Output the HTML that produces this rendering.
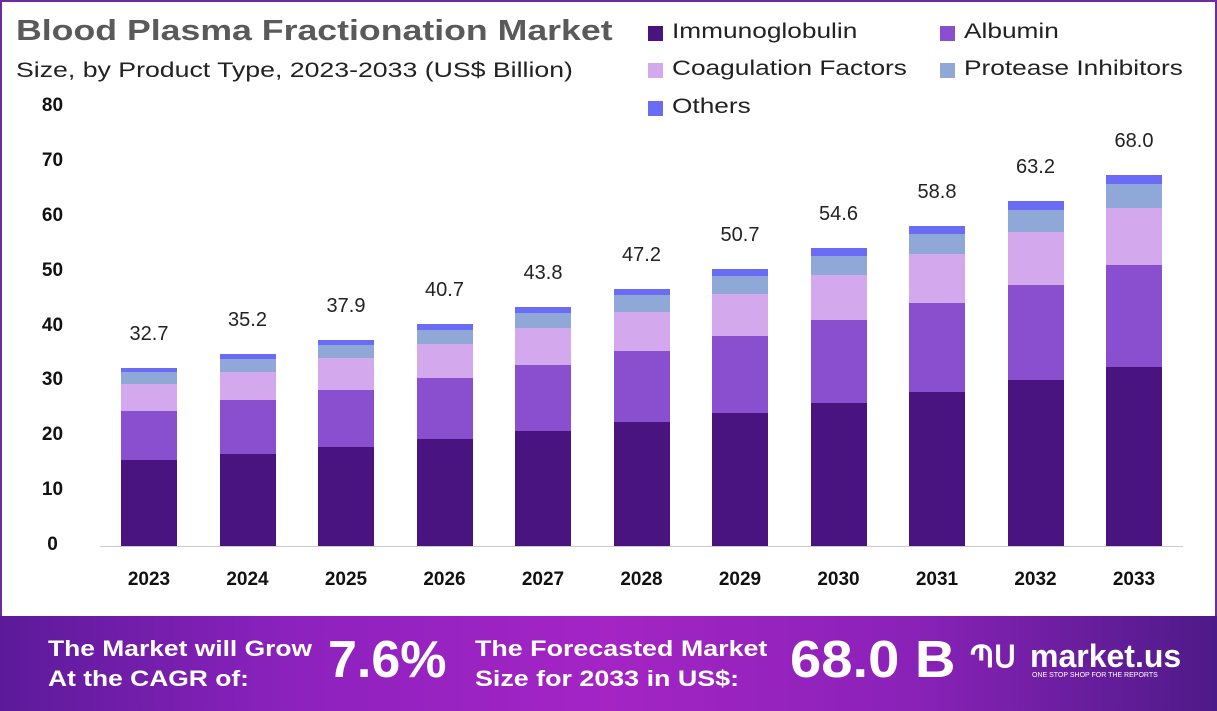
<!DOCTYPE html>
<html><head><meta charset="utf-8"><style>
body{margin:0;width:1217px;height:711px;overflow:hidden;background:#fff;font-family:"Liberation Sans",sans-serif;position:relative}
.frame{position:absolute;left:0;top:0;width:1213px;height:640px;border:2px solid #6d2c9e;border-bottom:none}
.t{position:absolute;white-space:nowrap}
.sx{transform-origin:0 0;transform:scaleX(1.25)}
.bar{position:absolute;width:56px}
.lg{position:absolute;width:15px;height:15px}
.banner{position:absolute;left:0;top:616px;width:1217px;height:95px;background:linear-gradient(90deg,#5c1a9a 0%,#8e22bf 25%,#a424c4 50%,#8a22b8 75%,#4e1a88 100%)}
.w{color:#fff;font-weight:bold;position:absolute;white-space:nowrap}
</style></head><body>
<div class="frame"></div>
<div class="t" style="left:16px;top:15px;font-size:29px;font-weight:bold;color:#5a5a5a;transform-origin:0 0;transform:scaleX(1.23)">Blood Plasma Fractionation Market</div>
<div class="t" style="left:16px;top:59px;font-size:21px;color:#222;transform-origin:0 0;transform:scaleX(1.27)">Size, by Product Type, 2023-2033 (US$ Billion)</div>
<div class="lg" style="left:648px;top:26px;background:#4a1480"></div><div class="t sx" style="left:672px;top:20px;font-size:21px;color:#222">Immunoglobulin</div>
<div class="lg" style="left:940px;top:26px;background:#8a4fcf"></div><div class="t sx" style="left:964px;top:20px;font-size:21px;color:#222">Albumin</div>
<div class="lg" style="left:648px;top:63px;background:#d4a8ec"></div><div class="t sx" style="left:672px;top:57px;font-size:21px;color:#222">Coagulation Factors</div>
<div class="lg" style="left:940px;top:63px;background:#8fa8d8"></div><div class="t sx" style="left:964px;top:57px;font-size:21px;color:#222">Protease Inhibitors</div>
<div class="lg" style="left:648px;top:101px;background:#6b6cf5"></div><div class="t sx" style="left:672px;top:95px;font-size:21px;color:#222">Others</div>
<div id="ax"></div>
<div style="position:absolute;left:100px;top:546px;width:1083px;height:1px;background:#ccc"></div>
<div id="bars"></div>
<div class="banner"></div>
<div class="w" style="left:48px;top:634px;font-size:22px;line-height:30px;transform-origin:0 0;transform:scaleX(1.2)">The Market will Grow<br>At the CAGR of:</div>
<div class="w" style="left:328px;top:630px;font-size:52px">7.6%</div>
<div class="w" style="left:475px;top:634px;font-size:22px;line-height:30px;transform-origin:0 0;transform:scaleX(1.22)">The Forecasted Market<br>Size for 2033 in US$:</div>
<div class="w" style="left:790px;top:630px;font-size:52px;transform-origin:0 0;transform:scaleX(1.08)">68.0 B</div>
<div class="w" style="left:970px;top:640px;font-size:30px">ՊՍ</div>
<div class="w" style="left:1030px;top:638px;font-size:32px">market.us</div>
<div class="w" style="left:1032px;top:672px;font-size:7px;font-weight:normal">ONE STOP SHOP FOR THE REPORTS</div>
<script>
var ax=document.getElementById('ax'),h='';
for(var i=0;i<=8;i++){var y=546-i*54.875;h+='<div class="t" style="left:30px;width:45px;text-align:center;top:'+(y-12)+'px;font-size:19px;font-weight:bold;color:#111">'+(i*10)+'</div>';}
ax.innerHTML=h;
var d=[[368,372,384,411,460],[354,359,372,400,454],[340,345,358,390,447],[324,330,344,378,439],[307,313,328,365,431],[289,295,312,351,422],[269,276,294,336,413],[248,256,275,320,403],[226,234,254,303,392],[201,210,232,285,380],[175,184,208,265,367]];
var v=['32.7','35.2','37.9','40.7','43.8','47.2','50.7','54.6','58.8','63.2','68.0'];
var c=['#6b6cf5','#8fa8d8','#d4a8ec','#8a4fcf','#4a1480'];
var b='';
for(var k=0;k<11;k++){var x=121+k*98.5,r=d[k].concat([546]);
for(var s=0;s<5;s++)b+='<div class="bar" style="left:'+x+'px;top:'+r[s]+'px;height:'+(r[s+1]-r[s])+'px;background:'+c[s]+'"></div>';
b+='<div class="t" style="left:'+(x-20)+'px;width:96px;text-align:center;top:'+(r[0]-45)+'px;font-size:20px;color:#222">'+v[k]+'</div>';
b+='<div class="t" style="left:'+(x-20)+'px;width:96px;text-align:center;top:569px;font-size:19px;font-weight:bold;color:#111">'+(2023+k)+'</div>';}
document.getElementById('bars').innerHTML=b;
</script>
</body></html>
